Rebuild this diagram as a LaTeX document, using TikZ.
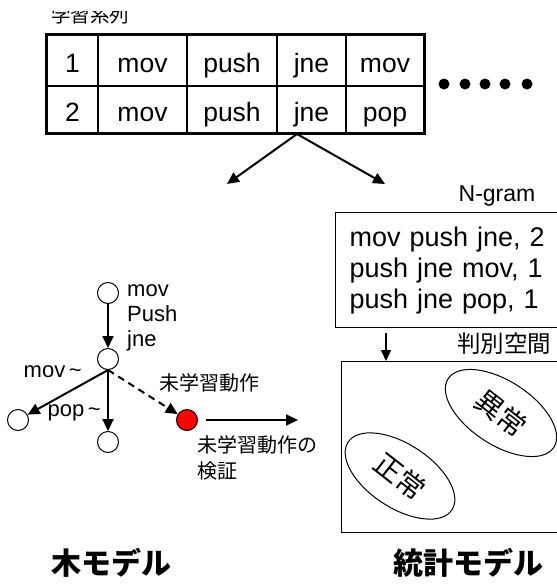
\documentclass[tikz,border=0pt]{standalone}
\usepackage{fontspec}
\setmainfont{Liberation Sans}
\newfontfamily\jp{Noto Sans CJK JP}
\usetikzlibrary{arrows.meta,shapes.geometric}
\tikzset{
  cell/.style={draw, line width=1.5pt, inner sep=0pt},
  ctext/.style={anchor=base, inner sep=0pt, font=\fontsize{26.5}{30}\selectfont},
  arr/.style={line width=2pt, -{Triangle[length=12pt,width=11pt]}},
  tn/.style={circle, draw, line width=1pt, fill=white, minimum size=21pt, inner sep=0pt},
  rn/.style={tn, fill=red},
  lbl/.style={inner sep=0pt, font=\fontsize{22}{25}\selectfont},
  jlbl/.style={inner sep=0pt, font=\jp\fontsize{20}{26}\selectfont},
  dot/.style={circle, fill=black, minimum size=11pt, inner sep=0pt},
  bx/.style={draw, line width=1.2pt, inner sep=0pt},
  etext/.style={inner sep=0pt, rotate=-38, font=\jp\fontsize{28}{30}\selectfont},
  ttl/.style={inner sep=0pt, font=\jp\bfseries\fontsize{30}{34}\selectfont}
}
\begin{document}
\begin{tikzpicture}[x=1pt,y=-1pt]
\useasboundingbox (0,0) rectangle (557,584);
% clipped heading
\begin{scope}
\clip (0,11) rectangle (557,584);
\node[jlbl, font=\jp\fontsize{19.5}{24}\selectfont, anchor=west] (head) at (51,15) {学習系列};
\end{scope}
% table
\foreach \r/\ya/\yb in {1/35/86, 2/86/133} {
  \pgfmathsetmacro{\yc}{(\ya+\yb)/2}
  \pgfmathsetmacro{\hh}{\yb-\ya}
  \foreach \c/\xa/\xb in {1/47/98, 2/98/187, 3/187/277, 4/277/346, 5/346/424} {
    \pgfmathsetmacro{\xc}{(\xa+\xb)/2}
    \pgfmathsetmacro{\ww}{\xb-\xa}
    \node[cell, minimum width=\ww pt, minimum height=\hh pt] (c\r\c) at (\xc,\yc) {};
  }
}
\foreach \c/\xc/\ta/\tb in {1/72.5/1/2, 2/142.5/mov/mov, 3/232/push/push, 4/311.5/jne/jne, 5/385/mov/pop} {
  \node[ctext] (w1\c) at (\xc,72) {\ta};
  \node[ctext] (w2\c) at (\xc,121) {\tb};
}
\draw[line width=3pt] (c11.north west) rectangle (c25.south east);
% dots
\foreach \i/\x in {1/444,2/465,3/485,4/505,5/527} {
  \node[dot] (d\i) at (\x,84) {};
}
% split arrows
\coordinate (tb) at (297,134);
\coordinate (tl) at (227,184);
\coordinate (tr) at (385,184);
\draw[arr] (tb) -- (tl);
\draw[arr] (tb) -- (tr);
% tree
\node[tn] (t1) at (108,293) {};
\node[tn] (t2) at (108,359) {};
\node[tn] (t3) at (18,420) {};
\node[tn] (t4) at (108,442) {};
\node[rn] (t5) at (187,420) {};
\draw[arr] (t1) -- (t2);
\draw[arr] (t2.south) -- (t3);
\draw[arr] (t2.south) -- (t4);
\draw[arr, dash pattern=on 7pt off 5pt] (t2.south) -- (t5);
\coordinate (ve) at (298,420);
\draw[arr, shorten <=8pt] (t5.east) -- (ve);
\node[lbl, anchor=west, align=left] (seq) at (127,318) {mov\\Push\\jne};
\node[lbl, anchor=east] (lmov) at (82,372) {mov\,\textasciitilde};
\node[lbl, anchor=east] (lpop) at (101,413) {pop\,\textasciitilde};
\node[jlbl, anchor=west] (unl) at (159,383) {未学習動作};
\node[jlbl, anchor=north west, align=left] (ver) at (197,435) {未学習動作の\\検証};
% N-gram
\node[lbl, font=\fontsize{23}{26}\selectfont, anchor=center] (ngl) at (497,196) {N-gram};
\node[bx, anchor=north west, minimum width=240pt, minimum height=115pt, text width=212pt, align=left, inner xsep=14pt,
  font=\fontsize{27}{31}\selectfont] (ng) at (335,212) {mov push jne, 2\\push jne mov, 1\\push jne pop, 1};
\node[jlbl, font=\jp\fontsize{23.5}{28}\selectfont, anchor=center] (spl) at (504,344) {判別空間};
\node[bx, anchor=north west, minimum width=235pt, minimum height=171pt] (sp) at (341,361) {};
\draw[line width=1.5pt, -{Triangle[length=11pt,width=10pt]}] ([xshift=51pt,yshift=-5pt]ng.south west) -- ([xshift=45pt]sp.north west);
\draw[line width=1pt, rotate around={-33:(501,413)}] (501,413) ellipse [x radius=63, y radius=32];
\draw[line width=1pt, rotate around={-33:(400,476)}] (400,476) ellipse [x radius=62, y radius=32];
\node[etext] (ab) at (501,413) {異常};
\node[etext] (no) at (400,476) {正常};
% titles
\node[ttl] (t1t) at (111,563) {木モデル};
\node[ttl] (t2t) at (468,563) {統計モデル};
\end{tikzpicture}
\end{document}
